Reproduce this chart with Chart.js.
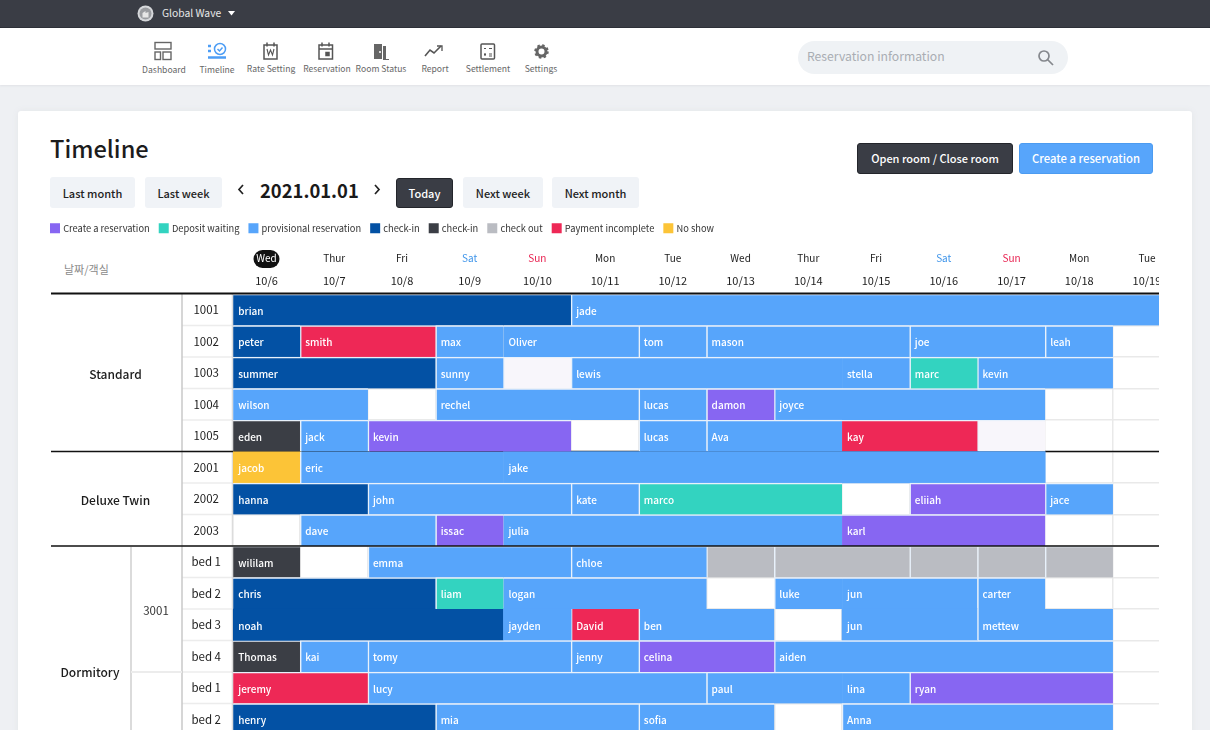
<!DOCTYPE html>
<html lang="en"><head><meta charset="utf-8"><title>Timeline</title>
<script src="https://cdn.jsdelivr.net/npm/chart.js@4"></script>
<style>
*{box-sizing:border-box}
html,body{margin:0;padding:0;width:1210px;height:730px;overflow:hidden;background:#eef0f3;font-family:"Noto Sans CJK KR","Noto Sans",sans-serif;color:#222}
.abs,.abs *{position:absolute}
#top{left:0;top:0;width:1210px;height:28px;background:#3a3d45;border-bottom:1px solid #20232a}
#nav{left:0;top:28px;width:1210px;height:57px;background:#fff;box-shadow:0 1px 2px #e0e2e6}
#card{left:18px;top:111px;width:1174px;height:640px;background:#fff;border-radius:3px;box-shadow:0 0 6px #e3e5e9}
.t{white-space:nowrap;line-height:1}
.c{transform:translateX(-50%)}
.nl{font-size:8.6px;color:#666}
.btn{display:flex;align-items:center;justify-content:center;font-size:11px;font-weight:500;border-radius:3px;white-space:nowrap;background:#f0f3f7;color:#222}
.dark{background:#3a3d45;color:#fff;border:1px solid #23252b}
.blue{background:#57a5fb;color:#fff;border:1px solid #4c9bf0;font-size:11.3px}
.up{padding-bottom:2px}
canvas{position:absolute;left:41px;top:213px}
</style></head><body>
<div class="abs" id="page">
<div id="top"></div>
<svg style="left:137px;top:5px" width="17" height="17"><circle cx="8.5" cy="8.5" r="8" fill="#d6d8db"/><circle cx="8.5" cy="8.5" r="6" fill="#9a9ca0"/><path d="M5.500 12.500V8l3-2v2l3-1v5.500z" fill="#e6e6e6"/></svg>
<div class="t" style="left:162px;top:8px;font-size:10.3px;color:#e8e8e8">Global Wave</div>
<svg style="left:228px;top:11px" width="7" height="5"><path d="M0 0h7L3.500 4.500z" fill="#fff"/></svg>
<div id="nav"></div>
<svg style="left:154px;top:41px" width="20" height="20" fill="none" stroke="#666" stroke-width="1.400"><rect x="1" y="1.500" width="16" height="6.500"/><rect x="1" y="11" width="5.500" height="7.500"/><rect x="9" y="11" width="8" height="7.500"/></svg>
<svg style="left:207px;top:42px" width="22" height="20" fill="none" stroke="#4c9df5" stroke-width="1.500"><circle cx="13" cy="7" r="5.500"/><path d="M10.500 7l2 2 3-3.500"/><path d="M1 4h3M1 9h3" stroke-width="2.500"/><path d="M1 15.500h18" stroke-width="2.500"/></svg>
<svg style="left:262px;top:42px" width="18" height="19" fill="none" stroke="#555" stroke-width="1.500"><rect x="2" y="3" width="13" height="14"/><path d="M5 0.500v4M12 0.500v4"/><path d="M5 7l1.500 6L8.500 8l2 5L12 7" stroke-width="1.100"/></svg>
<svg style="left:317px;top:42px" width="18" height="19" fill="none" stroke="#555" stroke-width="1.500"><rect x="2" y="3" width="13.500" height="14"/><path d="M5 .5v4M12 .5v4M2 7h13.500"/><rect x="9" y="10.500" width="3" height="3" fill="#555"/></svg>
<svg style="left:372px;top:42px" width="18" height="19"><path d="M2 2h8v15H2z" fill="#666"/><path d="M11 4h3v13h3v1h-6z" fill="#666"/><circle cx="8" cy="10" r="1" fill="#fff"/></svg>
<svg style="left:424px;top:43px" width="20" height="16" fill="none" stroke="#555" stroke-width="1.600"><path d="M1 13l5-6 4 3 7-7"/><path d="M13 3h5v5" stroke-width="1.300"/></svg>
<svg style="left:479px;top:42px" width="18" height="19" fill="none" stroke="#555" stroke-width="1.500"><rect x="2" y="2" width="13.500" height="15" rx="1"/><path d="M5 6.500h2M10 6.500h3M5 12.500h2M6 11v3M10 12h3M10 14h3" stroke-width="1.200"/></svg>
<svg style="left:534px;top:44px" width="15" height="15"><circle cx="7.500" cy="7.500" r="4.500" fill="none" stroke="#666" stroke-width="3"/><circle cx="7.500" cy="7.500" r="6" fill="none" stroke="#666" stroke-width="2.500" stroke-dasharray="2.400 2.300"/></svg>
<div class="t nl c" style="left:164px;top:65px">Dashboard</div>
<div class="t nl c" style="left:217px;top:65px">Timeline</div>
<div class="t nl c" style="left:271px;top:64px">Rate Setting</div>
<div class="t nl c" style="left:327px;top:64px">Reservation</div>
<div class="t nl c" style="left:381px;top:64px">Room Status</div>
<div class="t nl c" style="left:435px;top:64px">Report</div>
<div class="t nl c" style="left:488px;top:64px">Settlement</div>
<div class="t nl c" style="left:541px;top:64px">Settings</div>
<div style="left:798px;top:41px;width:270px;height:33px;border-radius:17px;background:#eff2f5"></div>
<div class="t" style="left:807px;top:50px;font-size:12.200px;color:#a9adb3">Reservation information</div>
<svg style="left:1037px;top:49px" width="18" height="18" fill="none" stroke="#85888d" stroke-width="1.700"><circle cx="7" cy="7" r="5"/><path d="M10.500 10.500l5.500 5.500"/></svg>
<div id="card"></div>
<div class="t" style="left:50px;top:137px;font-size:23.600px;font-weight:500;color:#1c1c1c">Timeline</div>
<div class="btn dark up" style="left:857px;top:143px;width:156px;height:31px">Open room / Close room</div>
<div class="btn blue up" style="left:1019px;top:143px;width:134px;height:31px">Create a reservation</div>
<div class="btn" style="left:50px;top:177px;width:85px;height:31px">Last month</div>
<div class="btn" style="left:145px;top:177px;width:77px;height:31px">Last week</div>
<svg style="left:237px;top:184px" width="8" height="11" fill="none" stroke="#222" stroke-width="1.700"><path d="M6 1L2 5.500 6 10"/></svg>
<div class="t" style="left:260px;top:181px;font-size:18.400px;font-weight:700;color:#1a1a1a">2021.01.01</div>
<svg style="left:373px;top:184px" width="8" height="11" fill="none" stroke="#222" stroke-width="1.700"><path d="M2 1l4 4.500L2 10"/></svg>
<div class="btn dark" style="left:396px;top:178px;width:57px;height:30px">Today</div>
<div class="btn" style="left:463px;top:177px;width:80px;height:31px">Next week</div>
<div class="btn" style="left:552px;top:177px;width:87px;height:31px">Next month</div>
<div class="t" style="left:64px;top:264px;font-size:11px;color:#8a8a8a">날짜/객실</div>
</div>
<canvas id="c" width="1118" height="522"></canvas>
<script>
const dayNames=["Wed","Thur","Fri","Sat","Sun","Mon","Tue","Wed","Thur","Fri","Sat","Sun","Mon","Tue"];
const dateLabels=["10/6","10/7","10/8","10/9","10/10","10/11","10/12","10/13","10/14","10/15","10/16","10/17","10/18","10/19"];
const rowKeys=["1001","1002","1003","1004","1005","2001","2002","2003","3001-1","3001-2","3001-3","3001-4","3002-1","3002-2"];
const rowLabels=["1001","1002","1003","1004","1005","2001","2002","2003","bed 1","bed 2","bed 3","bed 4","bed 1","bed 2"];
const roomTypes=[["Standard",0,5],["Deluxe Twin",5,8],["Dormitory",8,16]];
const createReservation=[["1004",7,8,"damon"],["1005",2,5,"kevin"],["2002",10,12,"eliiah"],["2003",3,4,"issac"],["2003",9,12,"karl"],["3001-4",6,8,"celina"],["3002-1",10,13,"ryan"]];
const depositWaiting=[["1003",10,11,"marc"],["2002",6,9,"marco"],["3001-2",3,4,"liam"]];
const provisional=[["1001",5,14,"jade"],["1002",3,4,"max"],["1002",4,6,"Oliver"],["1002",6,7,"tom"],["1002",7,10,"mason"],["1002",10,12,"joe"],["1002",12,13,"leah"],
["1003",3,4,"sunny"],["1003",5,9,"lewis"],["1003",9,10,"stella"],["1003",11,13,"kevin"],
["1004",0,2,"wilson"],["1004",3,6,"rechel"],["1004",6,7,"lucas"],["1004",8,12,"joyce"],
["1005",1,2,"jack"],["1005",6,7,"lucas"],["1005",7,9,"Ava"],
["2001",1,4,"eric"],["2001",4,12,"jake"],
["2002",2,5,"john"],["2002",5,6,"kate"],["2002",12,13,"jace"],
["2003",1,3,"dave"],["2003",4,9,"julia"],
["3001-1",2,5,"emma"],["3001-1",5,7,"chloe"],
["3001-2",4,7,"logan"],["3001-2",8,9,"luke"],["3001-2",9,11,"jun"],["3001-2",11,12,"carter"],
["3001-3",4,5,"jayden"],["3001-3",6,8,"ben"],["3001-3",9,11,"jun"],["3001-3",11,13,"mettew"],
["3001-4",1,2,"kai"],["3001-4",2,5,"tomy"],["3001-4",5,6,"jenny"],["3001-4",8,13,"aiden"],
["3002-1",2,7,"lucy"],["3002-1",7,9,"paul"],["3002-1",9,10,"lina"],
["3002-2",3,6,"mia"],["3002-2",6,8,"sofia"],["3002-2",9,13,"Anna"]];
const checkInNavy=[["1001",0,5,"brian"],["1002",0,1,"peter"],["1003",0,3,"summer"],["2002",0,2,"hanna"],["3001-2",0,3,"chris"],["3001-3",0,4,"noah"],["3002-2",0,3,"henry"]];
const checkInDark=[["1005",0,1,"eden"],["3001-1",0,1,"wililam"],["3001-4",0,1,"Thomas"]];
const checkOut=[["3001-1",7,8,""],["3001-1",8,10,""],["3001-1",10,11,""],["3001-1",11,12,""],["3001-1",12,13,""]];
const paymentIncomplete=[["1002",1,3,"smith"],["1005",9,11,"kay"],["3001-3",5,6,"David"],["3002-1",0,2,"jeremy"]];
const noShow=[["2001",0,1,"jacob"]];
const closedCells=[["1003",4,5,""],["1005",11,12,""]];

const FONT='"Noto Sans CJK KR","Noto Sans",sans-serif';
const CL=41, CT=213, AREA_LEFT=191.5, AREA_TOP=81, X_MAX=13.68;
const noLeftSeam=new Set(["Oliver","jake","stella","lina","jun","karl","kay","julia","logan","jayden"]);
const noTopRows=new Set(["2001","3001-3"]);
const mk=(label,color,list)=>({label,backgroundColor:color,grouped:false,barPercentage:1,categoryPercentage:1,
  borderColor:'#e8f1fb',borderSkipped:false,
  borderWidth:c=>{const r=c.raw;if(!r)return 0;return{left:(r.x[0]===0||noLeftSeam.has(r.name))?0:1.5,top:noTopRows.has(r.y)?0:1.5,right:0,bottom:0}},
  data:list.map(r=>({y:r[0],x:[r[1],r[2]],name:r[3]}))});
const datasets=[
 mk("Create a reservation","#8766f2",createReservation),
 mk("Deposit waiting","#33d3c0",depositWaiting),
 mk("provisional reservation","#57a5fb",provisional),
 mk("check-in","#0351a4",checkInNavy),
 mk("check-in","#3b3e45",checkInDark),
 mk("check out","#babcc2",checkOut),
 mk("Payment incomplete","#ee2856",paymentIncomplete),
 mk("No show","#fcc437",noShow),
 mk("","#f8f6fb",closedCells)];
const line=(g,x1,y1,x2,y2,col,w)=>{g.save();g.strokeStyle=col;g.lineWidth=w;g.beginPath();g.moveTo(x1,y1);g.lineTo(x2,y2);g.stroke();g.restore()};
const noPad=s=>{s.paddingTop=s.paddingBottom=s.paddingLeft=s.paddingRight=0};
const timelinePlugin={id:'timeline',
 beforeDraw(ch){const g=ch.ctx,s=ch.scales.xDays;const px=s.getPixelForTick(0)+34;
  g.save();g.fillStyle='#111';g.beginPath();g.roundRect(px-13,250-CT,26,18,9);g.fill();g.restore();},
 beforeDatasetsDraw(ch){const g=ch.ctx,a=ch.chartArea,rh=a.height/14,W=ch.width;
  for(let i=1;i<14;i++)line(g,182-CL,a.top+i*rh,a.left,a.top+i*rh,'#ececec',1.5);
  line(g,182-CL,a.top,182-CL,ch.height,'#c9c9c9',1.5);
  line(g,a.left,a.top,a.left,ch.height,'#dcdcdc',1.5);
  line(g,131-CL,a.top+8*rh+1,131-CL,ch.height,'#cfcfcf',1.5);
  line(g,131-CL,a.top+12*rh,182-CL,a.top+12*rh,'#ececec',2);
  line(g,51-CL,a.top+5*rh,W,a.top+5*rh,'#111',1.5);
 },
 afterDatasetsDraw(ch){const g=ch.ctx,a=ch.chartArea,rh=a.height/14,W=ch.width;
  line(g,51-CL,a.top-.5,W,a.top-.5,'#111',2);
  line(g,51-CL,a.top+8*rh,W,a.top+8*rh,'#111',1.5);
  g.save();g.beginPath();g.rect(a.left,a.top,a.width,a.height);g.clip();
  g.font='500 10px '+FONT;g.fillStyle='#fff';g.textAlign='left';g.textBaseline='middle';
  ch.data.datasets.forEach((d,i)=>{ch.getDatasetMeta(i).data.forEach((el,j)=>{const n=d.data[j].name;if(!n)return;
    const p=el.getProps(['x','y','base'],true);g.fillText(n,Math.min(p.x,p.base)+5,p.y+1);});});
  g.restore();
  g.save();g.fillStyle='#1c1c1c';g.font='500 12px '+FONT;g.textAlign='center';g.textBaseline='middle';
  roomTypes.forEach(([n,a0,a1],i)=>{const cy=a.top+(a0+a1)/2*rh+(i==2?0:1.2);g.fillText(n,(i==2?90:115.5)-CL,cy);});
  g.font='400 11.5px '+FONT;g.fillStyle='#333';g.fillText("3001",156-CL,a.top+10*rh+1.2);
  g.restore();
 }};
new Chart(document.getElementById('c'),{type:'bar',plugins:[timelinePlugin],
 data:{labels:rowKeys,datasets},
 options:{indexAxis:'y',responsive:false,animation:false,devicePixelRatio:1,
  layout:{padding:0},
  plugins:{tooltip:{enabled:false},title:{display:false},
   legend:{position:'top',align:'start',onClick:null,labels:{boxWidth:7,boxHeight:7,padding:10.5,color:'#333',font:{size:9.3,family:FONT},
    generateLabels:ch=>ch.data.datasets.map((d,i)=>({text:d.label,fillStyle:d.backgroundColor,strokeStyle:d.backgroundColor,lineWidth:3,datasetIndex:i,hidden:false,fontColor:'#333'})).filter(l=>l.text)}}},
  scales:{
   y:{type:'category',position:'left',offset:true,afterFit:s=>{s.width=AREA_LEFT;noPad(s)},
    grid:{display:true,offset:true,color:'#e9e9e9',lineWidth:1.5,drawTicks:false},border:{display:false},
    ticks:{autoSkip:false,padding:11.5,crossAlign:'center',color:'#222',font:{size:11.5,family:FONT},callback:(v,i)=>rowLabels[i]}},
   x:{type:'linear',axis:'x',position:'top',weight:0,min:0,max:X_MAX,afterFit:s=>{s.height=24;noPad(s)},
    grid:{display:true,color:'#e9e9e9',lineWidth:1.5,drawTicks:false},border:{display:false},
    ticks:{stepSize:1,includeBounds:false,autoSkip:false,maxRotation:0,labelOffset:34,padding:7,color:'#222',font:{size:11,family:FONT},callback:v=>dateLabels[v]}},
   xDays:{type:'linear',axis:'x',position:'top',weight:1,min:0,max:X_MAX,afterFit:s=>{s.height=AREA_TOP-24-s.chart.legend.height;noPad(s)},
    grid:{display:false,drawTicks:false},border:{display:false},
    ticks:{stepSize:1,includeBounds:false,autoSkip:false,maxRotation:0,labelOffset:34,padding:6,font:{size:10,family:FONT},
     color:c=>{const n=dayNames[c.tick.value];return c.index===0?'#fff':n==='Sat'?'#3f95ea':n==='Sun'?'#e8204f':'#222'},callback:v=>dayNames[v]}}
  }}});
</script>
</body></html>
